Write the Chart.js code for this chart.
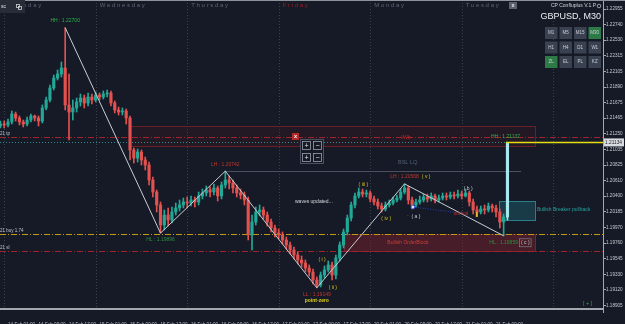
<!DOCTYPE html>
<html>
<head>
<meta charset="utf-8">
<script src="https://cdn.jsdelivr.net/npm/chart.js@4.4.1/dist/chart.umd.min.js"></script>
<style>
html, body { margin: 0; padding: 0; background: #151a26; overflow: hidden; }
#wrap { width: 625px; height: 324px; }
</style>
</head>
<body>
<div id="wrap"><canvas id="chart" width="625" height="324"></canvas></div>
<script>
// GBPUSD, candle per hour slot, hour 0 = 14 Feb 00:00 (weekend skipped)
const startHour = -1;
const firstOpen = 1.21358;
const closes = [
    1.21385, 1.21372, 1.21413, 1.21522, 1.21467, 1.21413, 1.21385, 1.21440, 1.21495, 1.21467,
    1.21426, 1.21604, 1.21713, 1.21877, 1.22013, 1.22068, 1.22150, 1.21645, 1.21549, 1.21604,
    1.21686, 1.21740, 1.21672, 1.21754, 1.21713, 1.21781, 1.21754, 1.21795, 1.21809, 1.21672,
    1.21577, 1.21549, 1.21563, 1.21467, 1.21031, 1.20921, 1.21003, 1.20894, 1.20826, 1.20621,
    1.20457, 1.20280, 1.20007, 1.20143, 1.20075, 1.20184, 1.20239, 1.20280, 1.20321, 1.20307,
    1.20348, 1.20321, 1.20403, 1.20444, 1.20485, 1.20457, 1.20512, 1.20403, 1.20553, 1.20621,
    1.20580, 1.20512, 1.20444, 1.20416, 1.20348, 1.19871, 1.20048, 1.20184, 1.20212, 1.20143,
    1.20048, 1.19966, 1.19898, 1.19871, 1.19802, 1.19734, 1.19666, 1.19597, 1.19529, 1.19488,
    1.19420, 1.19365, 1.19256, 1.19188, 1.19324, 1.19393, 1.19461, 1.19324, 1.19556, 1.19734,
    1.19912, 1.20102, 1.20280, 1.20403, 1.20457, 1.20430, 1.20444, 1.20362, 1.20321, 1.20266,
    1.20225, 1.20280, 1.20307, 1.20348, 1.20375, 1.20457, 1.20512, 1.20348, 1.20280, 1.20321,
    1.20348, 1.20389, 1.20362, 1.20403, 1.20348, 1.20375, 1.20403, 1.20389, 1.20416, 1.20403,
    1.20430, 1.20403, 1.20444, 1.20321, 1.20212, 1.20184, 1.20225, 1.20212, 1.20266, 1.20239,
    1.20184, 1.20048, 1.20116, 1.21134
];
const highs = [
    1.21426, 1.21426, 1.21454, 1.21563, 1.21549, 1.21495, 1.21440, 1.21481, 1.21522, 1.21508,
    1.21495, 1.21645, 1.21754, 1.21918, 1.22054, 1.22123, 1.22232, 1.22700, 1.22068, 1.21713,
    1.21740, 1.21795, 1.21781, 1.21809, 1.21795, 1.21822, 1.21809, 1.21836, 1.21850, 1.21836,
    1.21699, 1.21617, 1.21604, 1.21590, 1.21495, 1.21058, 1.21044, 1.21031, 1.20935, 1.20867,
    1.20662, 1.20485, 1.20321, 1.20212, 1.20239, 1.20252, 1.20307, 1.20348, 1.20375, 1.20389,
    1.20403, 1.20389, 1.20457, 1.20498, 1.20539, 1.20526, 1.20566, 1.20539, 1.20594, 1.20742,
    1.20676, 1.20621, 1.20553, 1.20498, 1.20457, 1.20389, 1.20143, 1.20252, 1.20280, 1.20252,
    1.20184, 1.20089, 1.20007, 1.19952, 1.19912, 1.19843, 1.19775, 1.19706, 1.19638, 1.19584,
    1.19529, 1.19461, 1.19406, 1.19297, 1.19365, 1.19447, 1.19515, 1.19502, 1.19597, 1.19775,
    1.19952, 1.20143, 1.20321, 1.20444, 1.20512, 1.20498, 1.20485, 1.20471, 1.20403, 1.20362,
    1.20307, 1.20321, 1.20348, 1.20389, 1.20416, 1.20498, 1.20568, 1.20539, 1.20389, 1.20362,
    1.20403, 1.20430, 1.20430, 1.20444, 1.20430, 1.20416, 1.20444, 1.20444, 1.20457, 1.20457,
    1.20485, 1.20471, 1.20498, 1.20471, 1.20362, 1.20266, 1.20266, 1.20280, 1.20307, 1.20293,
    1.20280, 1.20225, 1.20157, 1.21137
];
const lows = [
    1.21331, 1.21331, 1.21345, 1.21385, 1.21426, 1.21372, 1.21345, 1.21358, 1.21413, 1.21426,
    1.21358, 1.21399, 1.21577, 1.21686, 1.21850, 1.21986, 1.22027, 1.21577, 1.21167, 1.21440,
    1.21549, 1.21631, 1.21604, 1.21631, 1.21658, 1.21686, 1.21713, 1.21727, 1.21754, 1.21631,
    1.21536, 1.21508, 1.21508, 1.21385, 1.20894, 1.20853, 1.20867, 1.20826, 1.20758, 1.20553,
    1.20389, 1.20184, 1.19896, 1.19939, 1.19993, 1.20034, 1.20143, 1.20198, 1.20239, 1.20239,
    1.20266, 1.20252, 1.20280, 1.20362, 1.20403, 1.20389, 1.20416, 1.20334, 1.20362, 1.20512,
    1.20498, 1.20444, 1.20389, 1.20362, 1.20280, 1.19802, 1.19666, 1.20007, 1.20130, 1.20089,
    1.19993, 1.19912, 1.19843, 1.19816, 1.19747, 1.19679, 1.19611, 1.19543, 1.19474, 1.19433,
    1.19365, 1.19311, 1.19201, 1.19149, 1.19161, 1.19283, 1.19365, 1.19256, 1.19270, 1.19515,
    1.19693, 1.19871, 1.20062, 1.20239, 1.20375, 1.20389, 1.20389, 1.20321, 1.20280, 1.20225,
    1.20184, 1.20198, 1.20252, 1.20280, 1.20321, 1.20348, 1.20430, 1.20293, 1.20225, 1.20252,
    1.20293, 1.20321, 1.20321, 1.20334, 1.20307, 1.20321, 1.20348, 1.20348, 1.20362, 1.20362,
    1.20375, 1.20362, 1.20389, 1.20266, 1.20157, 1.20130, 1.20157, 1.20157, 1.20184, 1.20184,
    1.20116, 1.19966, 1.19859, 1.20075
];

// zigzag swing points
const swingHours = [16, 41, 58, 82, 105, 131];
const swingPrices = [1.22700, 1.19896, 1.20742, 1.19149, 1.20568, 1.19859];
const swingNames = ['HH', 'HL', 'LH', 'LL', 'LH', 'HL'];
const swingWaves = ['', '', '', '', '( v )', '( c )'];
const lastHighHour = 132;
const lastHighPrice = 1.21137;

// wave counts
const waveNames = ['( i )', '( ii )', '( iii )', '( iv )', '( a )', '( b )'];
const waveHours = [83.4, 86.2, 94.2, 100.2, 108, 121.7];
const wavePrices = [1.19529, 1.19149, 1.20553, 1.20089, 1.20116, 1.20498];

// axes
const timeHours = [1, 9, 17, 25, 33, 41, 49, 57, 65, 73, 81, 89, 97, 105, 113, 121, 129];
const timeLabels = ['14 Feb 01:00', '14 Feb 09:00', '14 Feb 17:00', '15 Feb 01:00', '15 Feb 09:00',
    '15 Feb 17:00', '16 Feb 01:00', '16 Feb 09:00', '16 Feb 17:00', '17 Feb 01:00', '17 Feb 09:00',
    '17 Feb 17:00', '20 Feb 01:00', '20 Feb 09:00', '20 Feb 17:00', '21 Feb 01:00', '21 Feb 09:00'];
const priceTicks = [1.22955, 1.22740, 1.22530, 1.22315, 1.22105, 1.21890, 1.21675, 1.21465, 1.21250,
    1.21035, 1.20825, 1.20610, 1.20400, 1.20185, 1.19970, 1.19760, 1.19545, 1.19330, 1.19120, 1.18905];
const dayStarts = [0, 24, 48, 72, 96, 120, 144];
const dayNames = ['Tuesday', 'Wednesday', 'Thursday', 'Friday', 'Monday', 'Tuesday'];

// levels and zones
const tpPrice = 1.21208;
const bidPrice = 1.21134;
const bidFromHour = 131.6;
const buyPrice = 1.19884;
const slPrice = 1.19652;
const zoneEndHour = 139.2;
const supplyZone = [33, 1.21358, 1.21085];
const orderBlock = [89, 1.19884, 1.19652];
const breakerZone = [129.8, 1.20334, 1.20075];
const lhLineEndHour = 135.6;
const liqLine = [107.2, 1.20252, 119.5, 1.20171];

const FONT = '"Liberation Sans", Arial, sans-serif';
const bull = '#22a897';
const bear = '#e4514f';
const live = '#a6e8ee';

const candles = closes.map((c, i) => {
    const o = i === 0 ? firstOpen : closes[i - 1];
    return { x: startHour + i, o: o, h: highs[i], l: lows[i], c: c };
});
const lastIndex = candles.length - 1;
function candleColor(ctx) {
    const k = candles[ctx.dataIndex];
    if (!k) return bull;
    if (ctx.dataIndex === lastIndex) return live;
    return k.c >= k.o ? bull : bear;
}

function txt(ctx, s, x, y, color, size, align, weight) {
    ctx.font = (weight || 'normal') + ' ' + size + 'px ' + FONT;
    ctx.fillStyle = color;
    ctx.textAlign = align || 'left';
    ctx.textBaseline = 'middle';
    ctx.fillText(s, x, y);
    return ctx.measureText(s).width;
}
function hline(ctx, y, x0, x1, color, dash, width) {
    ctx.strokeStyle = color;
    ctx.lineWidth = width || 1;
    ctx.setLineDash(dash || []);
    ctx.beginPath();
    ctx.moveTo(x0, Math.round(y) + 0.5);
    ctx.lineTo(x1, Math.round(y) + 0.5);
    ctx.stroke();
    ctx.setLineDash([]);
}

const overlay = {
    id: 'overlay',
    beforeDraw(chart) {
        const ctx = chart.ctx;
        ctx.save();
        ctx.fillStyle = '#151a26';
        ctx.fillRect(0, 0, chart.width, chart.height);
        ctx.restore();
    },
    beforeDatasetsDraw(chart) {
        const { ctx, chartArea: a, scales } = chart;
        const X = v => scales.x.getPixelForValue(v);
        const Y = v => scales.y.getPixelForValue(v);
        ctx.save();
        ctx.beginPath();
        ctx.rect(a.left, a.top, a.right - a.left, a.bottom - a.top);
        ctx.clip();

        // day separators
        ctx.strokeStyle = '#3a404c';
        ctx.lineWidth = 1;
        ctx.setLineDash([1, 2]);
        dayStarts.forEach(h => {
            const px = Math.round(X(h)) + 0.5;
            ctx.beginPath();
            ctx.moveTo(px, a.top);
            ctx.lineTo(px, a.bottom);
            ctx.stroke();
        });
        ctx.setLineDash([]);

        // supply zone
        let x0 = X(supplyZone[0]), x1 = X(zoneEndHour);
        let y0 = Y(supplyZone[1]), y1 = Y(supplyZone[2]);
        ctx.fillStyle = 'rgba(110,25,35,0.16)';
        ctx.fillRect(x0, y0, x1 - x0, y1 - y0);
        ctx.strokeStyle = '#6c1e25';
        ctx.lineWidth = 1;
        ctx.strokeRect(Math.round(x0) + 0.5, Math.round(y0) + 0.5, Math.round(x1 - x0), Math.round(y1 - y0));

        // bullish order block
        x0 = X(orderBlock[0]); y0 = Y(orderBlock[1]); y1 = Y(orderBlock[2]);
        ctx.fillStyle = 'rgba(120,32,42,0.5)';
        ctx.fillRect(x0, y0, x1 - x0, y1 - y0);
        ctx.strokeStyle = '#7a2430';
        ctx.strokeRect(Math.round(x0) + 0.5, Math.round(y0) + 0.5, Math.round(x1 - x0), Math.round(y1 - y0));

        // breaker zone
        x0 = X(breakerZone[0]); y0 = Y(breakerZone[1]); y1 = Y(breakerZone[2]);
        ctx.fillStyle = 'rgba(28,92,104,0.5)';
        ctx.fillRect(x0, y0, x1 - x0, y1 - y0);
        ctx.strokeStyle = '#2a7f8a';
        ctx.strokeRect(Math.round(x0) + 0.5, Math.round(y0) + 0.5, Math.round(x1 - x0), Math.round(y1 - y0));

        // LH level line
        hline(ctx, Y(swingPrices[2]), X(swingHours[2]), X(lhLineEndHour), '#4a505d');

        // long levels
        hline(ctx, Y(tpPrice), a.left, a.right, '#a1232c', [6, 2, 1, 2]);
        hline(ctx, Y(bidPrice), a.left, X(bidFromHour), '#2b8c8c', [1, 2]);
        hline(ctx, Y(buyPrice), a.left, a.right, '#c09a12', [6, 2, 1, 2]);
        hline(ctx, Y(slPrice), a.left, a.right, '#a1232c', [6, 2, 1, 2]);

        // liquidity sweep line
        ctx.strokeStyle = '#2a3fb0';
        ctx.setLineDash([1, 1.5]);
        ctx.beginPath();
        ctx.moveTo(X(liqLine[0]), Y(liqLine[1]));
        ctx.lineTo(X(liqLine[2]), Y(liqLine[3]));
        ctx.stroke();
        ctx.setLineDash([]);
        ctx.restore();
    },
    afterDatasetsDraw(chart) {
        const { ctx, chartArea: a, scales } = chart;
        const X = v => scales.x.getPixelForValue(v);
        const Y = v => scales.y.getPixelForValue(v);
        ctx.save();

        // current price line
        hline(ctx, Y(bidPrice), X(bidFromHour), a.right, '#e6de10', [], 1.5);

        // level captions
        txt(ctx, '21 tp', 0, Y(tpPrice) - 3.5, '#bfc3cb', 4.5);
        txt(ctx, '21 buy 1.74', 0, Y(buyPrice) - 3, '#bfc3cb', 4.5);
        txt(ctx, '21 sl', 0, Y(slPrice) - 3, '#bfc3cb', 4.5);

        // swing labels
        swingHours.forEach((h, i) => {
            const up = swingNames[i] === 'HH' || swingNames[i] === 'LH';
            const color = swingNames[i] === 'HH' ? '#2fb24a'
                : (swingNames[i] === 'HL' ? '#2f8f3f' : '#c3372d');
            const px = X(h), py = Y(swingPrices[i]) + (up ? -7 : 7);
            const label = swingNames[i] + ' : ' + swingPrices[i].toFixed(5);
            const w = txt(ctx, label, px, py, color, 5, 'center');
            if (swingWaves[i]) {
                const wc = swingWaves[i] === '( c )' ? '#c8ccd4' : '#d4c21a';
                const tw = txt(ctx, swingWaves[i], px + w / 2 + 3, py, wc, 5, 'left');
                if (swingWaves[i] === '( c )') {
                    ctx.strokeStyle = '#8a8f99';
                    ctx.lineWidth = 0.6;
                    ctx.strokeRect(px + w / 2 + 1.5, py - 4, tw + 3, 8);
                }
            }
        });
        txt(ctx, 'HH : ' + lastHighPrice.toFixed(5), X(lastHighHour) - 2, Y(lastHighPrice) - 6, '#2fb24a', 5, 'center');
        txt(ctx, 'point-zero', X(swingHours[3]), Y(swingPrices[3]) + 13, '#e0d212', 5, 'center', 'bold');

        // wave counts
        waveNames.forEach((n, i) => {
            const c = (n === '( a )' || n === '( b )') ? '#c8ccd4' : '#d4c21a';
            txt(ctx, n, X(waveHours[i]), Y(wavePrices[i]), c, 5, 'center');
        });
        txt(ctx, '-', X(waveHours[4]) - 8, Y(wavePrices[4]) - 1, '#d03030', 5, 'center');

        // liquidity marks
        ctx.fillStyle = '#dfe6ff';
        ctx.beginPath();
        ctx.arc(X(liqLine[0]), Y(liqLine[1]), 1.8, 0, Math.PI * 2);
        ctx.fill();
        ctx.strokeStyle = '#3a5cff';
        ctx.lineWidth = 0.8;
        ctx.stroke();
        txt(ctx, 'out liqd', X(liqLine[2]) - 6, Y(liqLine[3]) + 1, '#c8302b', 4.5);
        ctx.fillStyle = '#f0b020';
        ctx.fillRect(X(liqLine[2]) + 16, Y(liqLine[3]) - 1, 2, 5);

        // zone captions
        txt(ctx, 'BSL LQ', X(103.3), Y(swingPrices[2]) - 9, '#52607a', 5.5);
        txt(ctx, 'IWb', X(105.4), Y(tpPrice), '#b02828', 5.5, 'center');
        txt(ctx, 'Bullish OrderBlock', X(100.5), (Y(orderBlock[1]) + Y(orderBlock[2])) / 2, '#c8403a', 5);
        txt(ctx, 'Bullish Breaker pullback', X(zoneEndHour) + 2, (Y(breakerZone[1]) + Y(breakerZone[2])) / 2 - 1, '#27a3a0', 5);
        txt(ctx, 'waves updated...', 295, 202, '#d6d8dc', 5);

        // day names
        ctx.letterSpacing = '1.7px';
        dayNames.forEach((d, i) => {
            txt(ctx, d, X(dayStarts[i]) + 4, 5.5, d === 'Friday' ? '#a11d1d' : '#5f6573', 6);
        });
        ctx.letterSpacing = '0px';
        ctx.restore();
    },
    afterDraw(chart) {
        const { ctx, chartArea: a, scales } = chart;
        const Y = v => scales.y.getPixelForValue(v);
        ctx.save();

        // frame
        ctx.fillStyle = '#8e929a';
        ctx.fillRect(0, 0, chart.width, 1);
        ctx.fillStyle = '#a3a7ae';
        ctx.fillRect(0, a.bottom - 1, a.right, 2);
        ctx.fillRect(a.right, a.bottom, 1, 4);

        // current price tag
        const py = Y(bidPrice);
        ctx.fillStyle = '#d8dbe0';
        ctx.fillRect(604, py - 4, 20, 8);
        txt(ctx, bidPrice.toFixed(5), 605, py, '#1b1e24', 4.8);

        // top-left box
        ctx.fillStyle = '#272c37';
        ctx.fillRect(0, 0, 25, 13);
        txt(ctx, 'sc', 1, 6.5, '#e2e4e8', 5);
        ctx.strokeStyle = '#d0d3d8';
        ctx.lineWidth = 0.8;
        ctx.strokeRect(16.5, 4.5, 3, 3);
        ctx.strokeRect(18.5, 6.5, 3, 3);

        // top X button
        ctx.fillStyle = '#59606e';
        ctx.fillRect(509, 2, 8, 7);
        txt(ctx, 'x', 513, 5.5, '#e6e6e6', 5.5, 'center', 'bold');

        // symbol panel
        txt(ctx, 'CP Confluplus V.1.P', 596, 6, '#cfd2d8', 5, 'right');
        ctx.strokeStyle = '#cfd2d8';
        ctx.lineWidth = 0.7;
        ctx.beginPath();
        ctx.arc(599, 6, 1.8, 0, Math.PI * 2);
        ctx.stroke();
        txt(ctx, 'GBPUSD, M30', 601, 16.5, '#eceef1', 9, 'right');
        const btnRows = [['M1', 'M5', 'M15', 'M30'], ['H1', 'H4', 'D1', 'W1'], ['ZL', 'EL', 'PL', 'KZ']];
        const btnX = [545, 559.5, 574, 588.5];
        const btnY = [27, 41.5, 56];
        btnRows.forEach((row, r) => row.forEach((b, c) => {
            const on = b === 'M30' || b === 'ZL';
            ctx.fillStyle = on ? '#2e7a47' : '#3a4252';
            ctx.fillRect(btnX[c], btnY[r], 12.5, 12);
            txt(ctx, b, btnX[c] + 6.25, btnY[r] + 6, '#c9cdd5', 4.5, 'center');
        }));

        // zoom panel
        ctx.fillStyle = 'rgba(21,26,38,0.95)';
        ctx.fillRect(300, 139, 23, 24);
        ctx.strokeStyle = '#4b5160';
        ctx.lineWidth = 1;
        ctx.strokeRect(300.5, 139.5, 23, 24);
        [[302, 141, '+'], [313, 141, '\u2212'], [302, 153, '+'], [313, 153, '\u2212']].forEach(p => {
            ctx.strokeStyle = '#9aa0aa';
            ctx.lineWidth = 0.8;
            ctx.strokeRect(p[0] + 0.5, p[1] + 0.5, 8, 8);
            txt(ctx, p[2], p[0] + 4.5, p[1] + 4.8, '#e8e8e8', 7, 'center');
        });
        ctx.fillStyle = '#b32a2a';
        ctx.fillRect(292, 133, 7, 7);
        txt(ctx, 'x', 295.5, 136.3, '#ffffff', 5.5, 'center', 'bold');

        txt(ctx, '[ + ]', 583, 303, '#2aa84a', 5.5);
        ctx.restore();
    }
};

new Chart(document.getElementById('chart'), {
    type: 'bar',
    data: {
        datasets: [
            {
                type: 'line',
                data: swingHours.map((h, i) => ({ x: h, y: swingPrices[i] })),
                borderColor: '#c9cdd5',
                borderWidth: 1,
                pointRadius: 0,
                tension: 0,
                order: 0
            },
            {
                data: candles.map(k => ({ x: k.x, y: [k.o, k.c] })),
                backgroundColor: candleColor,
                barThickness: 2.5,
                minBarLength: 1,
                grouped: false,
                order: 1
            },
            {
                data: candles.map(k => ({ x: k.x, y: [k.l, k.h] })),
                backgroundColor: candleColor,
                barThickness: 1,
                grouped: false,
                order: 2
            }
        ]
    },
    options: {
        responsive: false,
        animation: false,
        events: [],
        layout: { padding: 0 },
        plugins: { legend: { display: false }, tooltip: { enabled: false } },
        scales: {
            x: {
                type: 'linear',
                min: -1.1,
                max: 157.06,
                offset: false,
                grid: { display: false },
                border: { display: false },
                afterBuildTicks: s => { s.ticks = timeHours.map(v => ({ value: v })); },
                afterFit: s => { s.height = 15; s.paddingLeft = 0; s.paddingRight = 0; },
                ticks: {
                    callback: (v, i) => timeLabels[i],
                    align: 'start',
                    maxRotation: 0,
                    autoSkip: false,
                    padding: 5,
                    color: '#b8bcc4',
                    font: { family: FONT, size: 4.6 }
                }
            },
            y: {
                type: 'linear',
                position: 'right',
                min: 1.18860,
                max: 1.23078,
                grid: { display: true, drawOnChartArea: false, drawTicks: true, tickLength: 3, color: '#a3a7ae' },
                border: { display: true, color: '#a3a7ae' },
                afterBuildTicks: s => { s.ticks = priceTicks.map(v => ({ value: v })); },
                afterFit: s => { s.width = 22; s.paddingTop = 0; s.paddingBottom = 0; },
                ticks: {
                    callback: v => v.toFixed(5),
                    padding: 0,
                    color: '#c4c8cf',
                    font: { family: FONT, size: 4.6 }
                }
            }
        }
    },
    plugins: [overlay]
});
</script>
</body>
</html>
